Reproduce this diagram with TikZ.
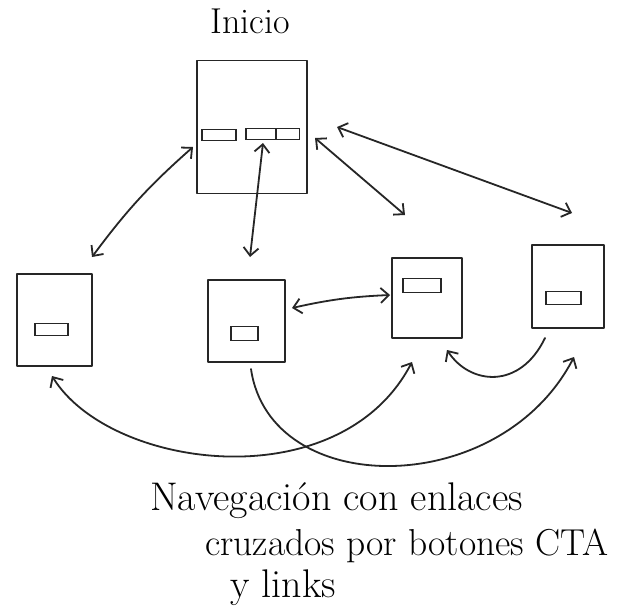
\documentclass[tikz,border=0pt]{standalone}
\usetikzlibrary{arrows.meta}
\begin{document}
\begin{tikzpicture}[x=1pt,y=-1pt,
  ink/.style={draw=black!85,line width=1.8pt,line cap=round,line join=round},
  sbox/.style={ink,rectangle,inner sep=0pt},
  btn/.style={draw=black!85,line width=1.6pt,rectangle,inner sep=0pt,minimum height=11pt},
  link/.style={ink,{Straight Barb[length=8pt,width=15pt]}-{Straight Barb[length=8pt,width=15pt]}},
  onelink/.style={ink,-{Straight Barb[length=8pt,width=15pt]}},
  hand/.style={font=\fontsize{40}{44}\selectfont,anchor=base west,inner sep=0pt}]
\useasboundingbox (0,0) rectangle (629,613);
\fill[white] (0,0) rectangle (629,613);

% title
\node[font=\fontsize{36}{40}\selectfont,anchor=base,inner sep=0pt] (title) at (250,33) {Inicio};

% home page
\node[sbox,minimum width=110pt,minimum height=133pt] (inicio) at (252,127) {};
\node[btn,minimum width=34pt] (b1) at (219,135) {};
\node[btn,minimum width=30pt] (b2) at (261,134) {};
\node[btn,minimum width=23pt] (b3) at (288,134) {};

% sub pages
\node[sbox,minimum width=75pt,minimum height=92pt] (p1) at (54.5,320) {};
\node[btn,minimum width=33pt,minimum height=12pt] (pb1) at (51.5,329.5) {};
\node[sbox,minimum width=77pt,minimum height=82pt] (p2) at (246.5,321) {};
\node[btn,minimum width=27pt,minimum height=14pt] (pb2) at (244.5,333.5) {};
\node[sbox,minimum width=70pt,minimum height=80pt] (p3) at (427,298) {};
\node[btn,minimum width=38pt,minimum height=14pt] (pb3) at (422,285.5) {};
\node[sbox,minimum width=72pt,minimum height=83pt] (p4) at (568,286.5) {};
\node[btn,minimum width=35pt,minimum height=13pt] (pb4) at (563.5,298) {};

% connector ends
\coordinate (a1s) at (193,147);
\coordinate (a1e) at (92,257);
\coordinate (a2s) at (263,143);
\coordinate (a2e) at (250,257);
\coordinate (a3s) at (315,138);
\coordinate (a3e) at (405,215);
\coordinate (a4s) at (337,127);
\coordinate (a4e) at (572,213);
\coordinate (a5s) at (292,308);
\coordinate (a5e) at (390,295);
\coordinate (cAs) at (52,376);
\coordinate (cAe) at (412,362);
\coordinate (cBs) at (251,369);
\coordinate (cBe) at (574,357);
\coordinate (cCs) at (545,338);
\coordinate (cCe) at (447,350);

\draw[link] (a1s) to[bend right=6] (a1e);
\draw[link] (a2s) -- (a2e);
\draw[link] (a3s) -- (a3e);
\draw[link] (a4s) -- (a4e);
\draw[link] (a5s) to[bend left=5] (a5e);
\draw[link] (cAs) .. controls (110,470) and (340,500) .. (cAe);
\draw[onelink] (cBs) .. controls (270,500) and (500,500) .. (cBe);
\draw[onelink] (cCs) .. controls (520,390) and (470,385) .. (cCe);

% caption
\node[hand] (l1) at (150,510) {Navegación con enlaces};
\node[hand,font=\fontsize{37.5}{42}\selectfont] (l2) at (205,555) {cruzados por botones CTA};
\node[hand] (l3) at (230,597) {y links};
\end{tikzpicture}
\end{document}
